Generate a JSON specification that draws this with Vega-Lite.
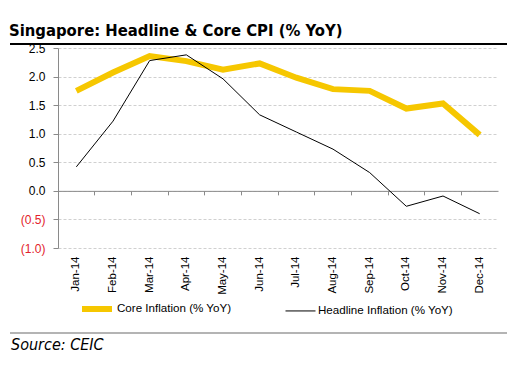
{
  "$schema": "https://vega.github.io/schema/vega-lite/v6.json",
  "padding": {"left": 9, "top": 22, "right": 5, "bottom": 2},
  "background": "#ffffff",
  "title": {"text": "Singapore: Headline & Core CPI (% YoY)", "anchor": "start", "font": "DejaVu Sans Condensed", "fontSize": 16.5, "fontWeight": "bold", "color": "#000000", "offset": 3},
  "columns": 1,
  "spacing": -3,
  "align": "none",
  "config": {"view": {"stroke": null}},
  "resolve": {
    "scale": {"color": "independent", "strokeWidth": "independent", "x": "independent"},
    "legend": {"color": "independent", "strokeWidth": "independent"}
  },
  "concat": [
    {
      "width": 497, "height": 2,
      "data": {"values": [{}]},
      "mark": {"type": "rule", "color": "#000000", "strokeWidth": 2},
      "encoding": {
        "x": {"datum": 0, "type": "quantitative", "scale": {"domain": [0, 1], "range": [-48, 449]}, "axis": null},
        "x2": {"datum": 1}
      }
    },
    {
      "width": 440, "height": 200,
      "data": {"values": [
        {"month": "Jan-14", "series": "Core Inflation (% YoY)", "value": 1.75},
        {"month": "Feb-14", "series": "Core Inflation (% YoY)", "value": 2.07},
        {"month": "Mar-14", "series": "Core Inflation (% YoY)", "value": 2.36},
        {"month": "Apr-14", "series": "Core Inflation (% YoY)", "value": 2.27},
        {"month": "May-14", "series": "Core Inflation (% YoY)", "value": 2.12},
        {"month": "Jun-14", "series": "Core Inflation (% YoY)", "value": 2.23},
        {"month": "Jul-14", "series": "Core Inflation (% YoY)", "value": 1.98},
        {"month": "Aug-14", "series": "Core Inflation (% YoY)", "value": 1.78},
        {"month": "Sep-14", "series": "Core Inflation (% YoY)", "value": 1.75},
        {"month": "Oct-14", "series": "Core Inflation (% YoY)", "value": 1.44},
        {"month": "Nov-14", "series": "Core Inflation (% YoY)", "value": 1.53},
        {"month": "Dec-14", "series": "Core Inflation (% YoY)", "value": 0.98},
        {"month": "Jan-14", "series": "Headline Inflation (% YoY)", "value": 0.42},
        {"month": "Feb-14", "series": "Headline Inflation (% YoY)", "value": 1.22},
        {"month": "Mar-14", "series": "Headline Inflation (% YoY)", "value": 2.28},
        {"month": "Apr-14", "series": "Headline Inflation (% YoY)", "value": 2.38},
        {"month": "May-14", "series": "Headline Inflation (% YoY)", "value": 1.96},
        {"month": "Jun-14", "series": "Headline Inflation (% YoY)", "value": 1.33},
        {"month": "Jul-14", "series": "Headline Inflation (% YoY)", "value": 1.03},
        {"month": "Aug-14", "series": "Headline Inflation (% YoY)", "value": 0.73},
        {"month": "Sep-14", "series": "Headline Inflation (% YoY)", "value": 0.32},
        {"month": "Oct-14", "series": "Headline Inflation (% YoY)", "value": -0.27},
        {"month": "Nov-14", "series": "Headline Inflation (% YoY)", "value": -0.09},
        {"month": "Dec-14", "series": "Headline Inflation (% YoY)", "value": -0.4}
      ]},
      "encoding": {
        "y": {
          "field": "value", "type": "quantitative",
          "scale": {"domain": [-1, 2.5], "nice": false, "zero": false},
          "axis": {
            "title": null,
            "values": [-1, -0.5, 0, 0.5, 1, 1.5, 2, 2.5],
            "labelExpr": "datum.value < 0 ? '(' + format(-datum.value, '.1f') + ')' : format(datum.value, '.1f')",
            "labelColor": {"condition": {"test": "datum.value < 0", "value": "#e3222b"}, "value": "#000000"},
            "labelFont": "Liberation Sans", "labelFontSize": 12,
            "labelPadding": 8,
            "grid": true, "gridColor": "#d0d0d0", "gridDash": [3, 2],
            "domainColor": "#8a8a8a", "tickColor": "#8a8a8a", "tickSize": 5,
            "minExtent": 48
          }
        },
        "color": {
          "field": "series", "type": "nominal",
          "scale": {"domain": ["Core Inflation (% YoY)", "Headline Inflation (% YoY)"], "range": ["#f6c700", "#000000"]},
          "legend": {
            "orient": "none", "legendX": 7, "legendY": 229, "direction": "horizontal", "title": null,
            "symbolType": "stroke", "symbolSize": 900,
            "labelFont": "Liberation Sans", "labelFontSize": 11.6, "labelColor": "#000000",
            "labelOffset": 2, "columnPadding": 51, "padding": 14
          }
        },
        "strokeWidth": {
          "field": "series", "type": "nominal",
          "scale": {"domain": ["Core Inflation (% YoY)", "Headline Inflation (% YoY)"], "range": [6, 1]},
          "legend": {
            "orient": "none", "legendX": 7, "legendY": 229, "direction": "horizontal", "title": null,
            "symbolType": "stroke", "symbolSize": 900,
            "labelFont": "Liberation Sans", "labelFontSize": 11.6, "labelColor": "#000000",
            "labelOffset": 2, "columnPadding": 51, "padding": 14
          }
        }
      },
      "layer": [
        {
          "transform": [{"filter": "datum.series == 'Core Inflation (% YoY)'"}],
          "mark": {"type": "line"},
          "encoding": {
            "x": {
              "field": "month", "type": "ordinal", "sort": null, "bandPosition": 0.5,
              "scale": {"type": "band", "paddingInner": 0, "paddingOuter": 0},
              "axis": {
                "orient": "bottom", "title": null, "domain": false, "ticks": false, "grid": false,
                "labelAngle": 270, "labelPadding": 8,
                "labelFont": "Liberation Sans", "labelFontSize": 11.5, "labelColor": "#000000"
              }
            }
          }
        },
        {
          "transform": [{"filter": "datum.series == 'Headline Inflation (% YoY)'"}],
          "mark": {"type": "line"},
          "encoding": {
            "x": {
              "field": "month", "type": "ordinal", "sort": null, "bandPosition": 0.5,
              "scale": {"type": "band", "paddingInner": 0, "paddingOuter": 0},
              "axis": {
                "orient": "top", "title": null, "labels": false, "grid": false,
                "domain": true, "domainColor": "#8a8a8a",
                "ticks": true, "tickColor": "#8a8a8a", "tickSize": -4, "bandPosition": 0,
                "offset": -142.86, "minExtent": 0, "maxExtent": 0
              }
            }
          }
        }
      ],
      "resolve": {"axis": {"x": "independent"}}
    },
    {
      "width": 497, "height": 2,
      "data": {"values": [{}]},
      "mark": {"type": "rule", "color": "#b4b4b4", "strokeWidth": 2},
      "encoding": {
        "x": {"datum": 0, "type": "quantitative", "scale": {"domain": [0, 1], "range": [-48, 449]}, "axis": null},
        "x2": {"datum": 1}
      },
      "title": {"text": "Source: CEIC", "orient": "bottom", "anchor": "start", "frame": "group", "dx": -47, "font": "DejaVu Sans Condensed", "fontStyle": "italic", "fontSize": 16, "fontWeight": "normal", "color": "#000000", "offset": 3}
    }
  ]
}
